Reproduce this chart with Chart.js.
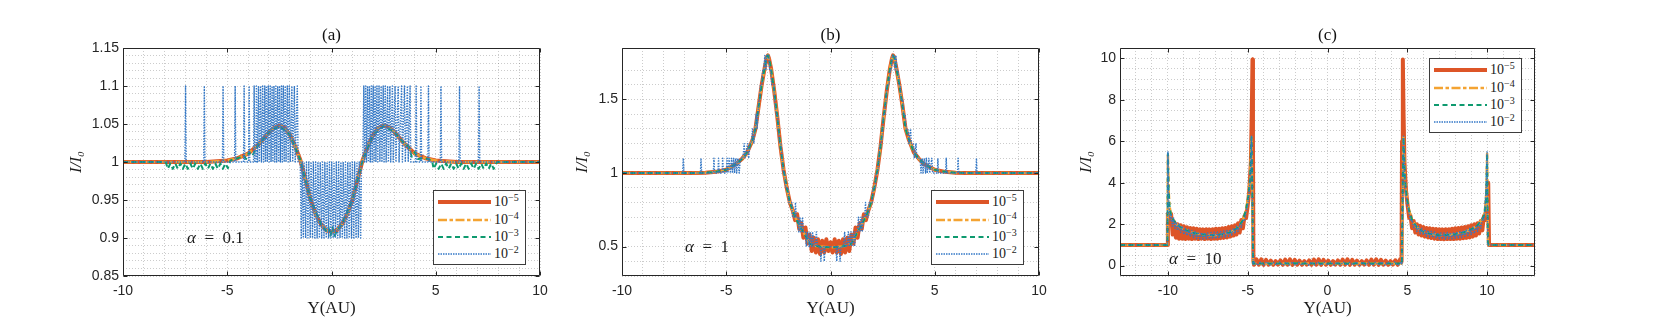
<!DOCTYPE html>
<html>
<head>
<meta charset="utf-8">
<title>I/I0 against Y(AU)</title>
<script src="https://cdn.jsdelivr.net/npm/chart.js@4.4.1/dist/chart.umd.min.js"></script>
<style>
  body { margin: 0; background: #fff; }
  #wrap { position: relative; width: 1661px; height: 324px; overflow: hidden; }
  canvas { position: absolute; top: 0; }
  .legend { position: absolute; box-sizing: border-box; width: 93px; height: 75px;
            background: #fff; border: 1px solid #3c3c3c; }
  .legend .row { position: absolute; left: 0; width: 100%; height: 16px; }
  .legend svg { position: absolute; left: 4px; top: 4px; }
  .legend .tl { position: absolute; left: 60px; top: 0; line-height: 16px; color: #1a1a1a;
                font: 14px "Liberation Serif", "DejaVu Serif", serif; white-space: nowrap; }
  .legend sup { font-size: 10px; vertical-align: 5px; line-height: 0; }
  .alpha { position: absolute; line-height: 20px; color: #1a1a1a; white-space: nowrap;
           font: 17px "Liberation Serif", "DejaVu Serif", serif; }
</style>
</head>
<body>
<div id="wrap">
  <canvas id="chartA" width="570" height="324" style="left:0px"></canvas>
  <canvas id="chartB" width="490" height="324" style="left:570px"></canvas>
  <canvas id="chartC" width="601" height="324" style="left:1060px"></canvas>
</div>
<script>
// legend exponents (10^-5 ... 10^-2), panel titles, alpha of each panel
const tolExponents = ["\u22125", "\u22124", "\u22123", "\u22122"];
const panelTitles = ["(a)", "(b)", "(c)"];
const alphaValues = ["0.1", "1", "10"];

// major ticks (labelled)
const abXMajor = [-10, -5, 0, 5, 10];
const aYMajor = [0.85, 0.9, 0.95, 1, 1.05, 1.1, 1.15];
const bYMajor = [0.5, 1, 1.5];
const cXMajor = [-10, -5, 0, 5, 10];
const cYMajor = [0, 2, 4, 6, 8, 10];

// ---- panel (a), alpha = 0.1 ----
// 10^-5 and 10^-4 lie on top of each other
const aSmooth = [[-10,1],[-8,1],[-6,1],[-5.5,1.001],[-5,1.002],[-4.5,1.005],[-4,1.011],[-3.5,1.023],[-3,1.039],
  [-2.75,1.045],[-2.5,1.048],[-2.25,1.045],[-2,1.036],[-1.75,1.021],[-1.5,1.003],[-1.25,0.977],[-1,0.95],
  [-0.75,0.931],[-0.5,0.918],[-0.25,0.91],[0,0.908],[0.25,0.91],[0.5,0.918],[0.75,0.931],[1,0.95],[1.25,0.977],
  [1.5,1.003],[1.75,1.021],[2,1.036],[2.25,1.045],[2.5,1.048],[2.75,1.046],[3,1.04],[3.5,1.024],[4,1.011],
  [4.5,1.005],[5,1.002],[5.5,1.001],[6,1],[8,1],[10,1]];
const aGreen = [[-10,1],[-7.95,1],[-7.85,0.991],[-7.73,0.998],[-7.61,0.991],[-7.49,0.998],[-7.37,0.991],[-7.25,0.998],
  [-7.13,0.991],[-7.01,0.998],[-6.89,0.991],[-6.77,0.998],[-6.65,0.991],[-6.53,0.998],[-6.41,0.991],[-6.29,0.998],
  [-6.17,0.991],[-6.05,0.998],[-5.93,0.991],[-5.81,0.998],[-5.69,0.991],[-5.57,0.998],[-5.45,0.991],[-5.33,0.998],
  [-5.21,0.991],[-5.09,0.998],[-4.97,0.992],[-4.85,1.002],[-4.5,1.005],[-4.2,1.008],[-4.1,1.004],[-3.95,1.013],
  [-3.8,1.008],[-3.5,1.023],[-3,1.039],[-2.5,1.047],[-2,1.036],[-1.5,1.003],[-1,0.95],[-0.5,0.918],[-0.25,0.909],
  [-0.15,0.914],[-0.05,0.903],[0.05,0.914],[0.15,0.903],[0.25,0.909],[0.5,0.918],[1,0.95],[1.5,1.003],[2,1.036],
  [2.5,1.047],[3,1.04],[3.5,1.024],[3.7,1.02],[3.85,1.007],[4,1.013],[4.15,1.004],[4.5,1.005],[4.82,1.002],
  [4.9,0.991],[5.02,0.998],[5.14,0.991],[5.26,0.998],[5.38,0.991],[5.5,0.998],[5.62,0.991],[5.74,0.998],[5.86,0.991],
  [5.98,0.998],[6.1,0.991],[6.22,0.998],[6.34,0.991],[6.46,0.998],[6.58,0.991],[6.7,0.998],[6.82,0.991],[6.94,0.998],
  [7.06,0.991],[7.18,0.998],[7.3,0.991],[7.42,0.998],[7.54,0.991],[7.66,0.998],[7.78,0.991],[7.9,0.998],[7.95,1],[10,1]];
const aBlue = [[-10,1],[-7.03,1],[-7,1.1],[-6.97,1],[-6.13,1],[-6.1,1.1],[-6.07,1],[-5.23,1],[-5.2,1.1],[-5.17,1],
  [-4.65,1],[-4.62,1.1],[-4.59,1],[-4.22,1],[-4.19,1.1],[-4.16,1],[-3.98,1],[-3.95,1.1],[-3.92,1],[-3.74,1],[-3.71,1.1],
  [-3.68,1],[-3.62,1],[-3.6,1.1],[-3.55,1],[-3.5,1.1],[-3.46,1],[-3.4,1.1],[-3.36,1],[-3.3,1.1],[-3.26,1],[-3.2,1.1],
  [-3.17,1],[-3.12,1.1],[-3.08,1],[-3.03,1.1],[-2.99,1],[-2.94,1.1],[-2.9,1],[-2.85,1.1],[-2.81,1],[-2.76,1.1],
  [-2.72,1],[-2.67,1.1],[-2.63,1],[-2.58,1.1],[-2.54,1],[-2.49,1.1],[-2.45,1],[-2.4,1.1],[-2.36,1],[-2.31,1.1],
  [-2.27,1],[-2.22,1.1],[-2.18,1],[-2.12,1.1],[-2.08,1],[-2.02,1.1],[-1.98,1],[-1.9,1.1],[-1.86,1],[-1.78,1.1],
  [-1.74,1],[-1.64,1.1],[-1.6,1],[-1.5,1],[-1.45,0.9],[-1.41,1],[-1.35,0.9],[-1.31,1],[-1.24,0.9],[-1.2,1],
  [-1.13,0.9],[-1.09,1],[-1.02,0.9],[-0.98,1],[-0.91,0.9],[-0.87,1],[-0.8,0.9],[-0.76,1],[-0.69,0.9],[-0.65,1],
  [-0.58,0.9],[-0.54,1],[-0.47,0.9],[-0.43,1],[-0.36,0.9],[-0.32,1],[-0.25,0.9],[-0.21,1],[-0.14,0.9],[-0.1,1],
  [-0.03,0.9],[0.01,1],[0.08,0.9],[0.12,1],[0.19,0.9],[0.23,1],[0.3,0.9],[0.34,1],[0.41,0.9],[0.45,1],[0.52,0.9],
  [0.56,1],[0.63,0.9],[0.67,1],[0.74,0.9],[0.78,1],[0.85,0.9],[0.89,1],[0.96,0.9],[1,1],[1.07,0.9],[1.11,1],
  [1.18,0.9],[1.22,1],[1.29,0.9],[1.33,1],[1.4,0.9],[1.44,1],[1.5,1],[1.55,1.1],[1.59,1],[1.64,1.1],[1.68,1],
  [1.73,1.1],[1.77,1],[1.82,1.1],[1.86,1],[1.91,1.1],[1.95,1],[2,1.1],[2.04,1],[2.09,1.1],[2.13,1],[2.18,1.1],
  [2.22,1],[2.28,1.1],[2.32,1],[2.38,1.1],[2.42,1],[2.48,1.1],[2.52,1],[2.58,1.1],[2.62,1],[2.69,1.1],[2.73,1],
  [2.8,1.1],[2.84,1],[2.92,1.1],[2.96,1],[3.05,1.1],[3.09,1],[3.2,1.1],[3.24,1],[3.36,1.1],[3.4,1],[3.5,1.1],
  [3.54,1],[3.64,1.1],[3.68,1],[3.77,1.1],[3.8,1],[4.03,1],[4.06,1.1],[4.09,1],[4.26,1],[4.29,1.1],[4.32,1],
  [4.62,1],[4.65,1.1],[4.68,1],[5.22,1],[5.25,1.1],[5.28,1],[6.11,1],[6.14,1.1],[6.17,1],[7.05,1],[7.08,1.1],
  [7.11,1],[10,1]];

// ---- panel (b), alpha = 1 ----
const bSmooth = [[-10,1],[-8,1],[-6.5,1],[-6,1.002],[-5.5,1.008],[-5,1.022],[-4.5,1.065],[-4.25,1.095],[-4,1.14],
  [-3.75,1.22],[-3.6,1.3],[-3.45,1.45],[-3.3,1.6],[-3.15,1.72],[-3.05,1.79],[-3,1.8],[-2.95,1.78],[-2.85,1.71],
  [-2.7,1.56],[-2.55,1.38],[-2.4,1.18],[-2.25,1.02],[-2.1,0.9],[-1.95,0.8],[-1.75,0.72],[-1.5,0.645],[-1.25,0.585],
  [-1,0.52],[-0.75,0.505],[-0.5,0.5],[0,0.495],[0.5,0.5],[0.75,0.505],[1,0.52],[1.25,0.585],[1.5,0.65],[1.75,0.72],
  [1.95,0.8],[2.1,0.9],[2.25,1.02],[2.4,1.18],[2.55,1.38],[2.7,1.56],[2.85,1.71],[2.95,1.78],[3,1.8],[3.05,1.79],
  [3.15,1.72],[3.3,1.6],[3.45,1.46],[3.6,1.3],[3.75,1.23],[4,1.14],[4.25,1.095],[4.5,1.06],[5,1.022],[5.5,1.008],
  [6,1.002],[6.5,1],[8,1],[10,1]];
const bRed = [[-10,1],[-8,1],[-6.5,1],[-6,1.002],[-5.5,1.008],[-5,1.022],[-4.5,1.065],[-4.25,1.095],[-4,1.14],
  [-3.75,1.22],[-3.6,1.3],[-3.45,1.45],[-3.3,1.6],[-3.15,1.72],[-3.05,1.79],[-3,1.8],[-2.95,1.78],[-2.85,1.71],
  [-2.7,1.56],[-2.55,1.38],[-2.4,1.18],[-2.25,1.02],[-2.1,0.9],[-1.95,0.8],[-1.8,0.74],[-1.7,0.68],[-1.6,0.72],
  [-1.5,0.62],[-1.4,0.66],[-1.3,0.56],[-1.2,0.63],[-1.1,0.52],[-1,0.58],[-0.9,0.47],[-0.8,0.56],[-0.7,0.46],
  [-0.6,0.55],[-0.5,0.45],[-0.4,0.54],[-0.3,0.46],[-0.2,0.55],[-0.1,0.47],[0,0.53],[0.1,0.46],[0.2,0.55],[0.3,0.46],
  [0.4,0.54],[0.5,0.45],[0.6,0.55],[0.7,0.46],[0.8,0.56],[0.9,0.47],[1,0.58],[1.1,0.52],[1.2,0.63],[1.3,0.56],
  [1.4,0.66],[1.5,0.62],[1.6,0.72],[1.7,0.68],[1.8,0.74],[1.95,0.8],[2.1,0.9],[2.25,1.02],[2.4,1.18],[2.55,1.38],
  [2.7,1.56],[2.85,1.71],[2.95,1.78],[3,1.8],[3.05,1.79],[3.15,1.72],[3.3,1.6],[3.45,1.46],[3.6,1.3],[3.75,1.23],
  [4,1.14],[4.25,1.095],[4.5,1.06],[5,1.022],[5.5,1.008],[6,1.002],[6.5,1],[8,1],[10,1]];
const bBlue = [[-10,1],[-7.09,1],[-7.06,1.1],[-7.03,1],[-6.24,1],[-6.21,1.1],[-6.18,1],[-5.62,1],[-5.59,1.1],
  [-5.56,1],[-5.4,1],[-5.37,1.1],[-5.34,1],[-5.2,1],[-5.17,1.1],[-5.14,1],[-5,1],[-4.96,1.1],[-4.92,1],[-4.86,1.1],
  [-4.8,1],[-4.74,1.1],[-4.7,1],[-4.64,1.1],[-4.6,1],[-4.54,1.1],[-4.5,1],[-4.44,1.1],[-4.38,1],[-4.32,1.1],
  [-4.2,1.1],[-4.14,1.2],[-4.1,1.1],[-3.98,1.2],[-3.92,1.1],[-3.86,1.2],[-3.8,1.2],[-3.74,1.3],[-3.68,1.2],
  [-3.62,1.3],[-3.56,1.4],[-3.52,1.3],[-3.48,1.4],[-3.44,1.5],[-3.4,1.5],[-3.36,1.6],[-3.3,1.6],[-3.25,1.7],
  [-3.2,1.7],[-3.15,1.8],[-3.1,1.7],[-3.06,1.8],[-2.96,1.8],[-2.92,1.7],[-2.86,1.7],[-2.82,1.6],[-2.72,1.6],
  [-2.68,1.5],[-2.6,1.4],[-2.54,1.4],[-2.5,1.3],[-2.44,1.2],[-2.38,1.2],[-2.32,1.1],[-2.26,1],[-2.2,1],[-2.14,0.9],
  [-2.04,0.9],[-2,0.8],[-1.86,0.8],[-1.82,0.7],[-1.72,0.7],[-1.68,0.8],[-1.64,0.7],[-1.56,0.7],[-1.52,0.6],
  [-1.46,0.7],[-1.42,0.6],[-1.34,0.7],[-1.3,0.6],[-1.2,0.6],[-1.16,0.5],[-1.1,0.6],[-1.02,0.5],[-0.98,0.6],
  [-0.9,0.5],[-0.86,0.6],[-0.78,0.5],[-0.72,0.5],[-0.68,0.6],[-0.62,0.5],[-0.5,0.5],[-0.46,0.4],[-0.42,0.5],
  [-0.34,0.5],[-0.3,0.4],[-0.26,0.5],[-0.1,0.5],[0.1,0.5],[0.26,0.5],[0.3,0.4],[0.34,0.5],[0.42,0.5],[0.46,0.4],
  [0.5,0.5],[0.62,0.5],[0.68,0.6],[0.72,0.5],[0.78,0.5],[0.86,0.6],[0.9,0.5],[0.98,0.6],[1.02,0.5],[1.1,0.6],
  [1.16,0.5],[1.2,0.6],[1.3,0.6],[1.34,0.7],[1.42,0.6],[1.46,0.7],[1.52,0.6],[1.56,0.7],[1.64,0.7],[1.68,0.8],
  [1.72,0.7],[1.82,0.7],[1.86,0.8],[2,0.8],[2.04,0.9],[2.14,0.9],[2.2,1],[2.26,1],[2.32,1.1],[2.38,1.2],[2.44,1.2],
  [2.5,1.3],[2.54,1.4],[2.6,1.4],[2.66,1.5],[2.72,1.6],[2.8,1.6],[2.86,1.7],[2.92,1.7],[2.96,1.8],[3.06,1.8],
  [3.1,1.7],[3.14,1.8],[3.18,1.7],[3.24,1.7],[3.28,1.6],[3.34,1.6],[3.38,1.5],[3.46,1.5],[3.5,1.4],[3.58,1.4],
  [3.62,1.3],[3.72,1.3],[3.76,1.2],[3.84,1.3],[3.88,1.2],[3.98,1.2],[4.02,1.1],[4.1,1.2],[4.14,1.1],[4.3,1.1],
  [4.34,1],[4.4,1.1],[4.44,1],[4.5,1.1],[4.56,1],[4.6,1.1],[4.64,1],[4.72,1.1],[4.76,1],[4.86,1.1],[4.9,1],
  [5.12,1],[5.15,1.1],[5.18,1],[5.52,1],[5.55,1.1],[5.58,1],[6.09,1],[6.12,1.1],[6.15,1],[6.97,1],[7,1.1],
  [7.03,1],[10,1]];

// ---- panel (c), alpha = 10 ----
const cRed = [[-13,1],[-10.04,1],[-10,2.5],[-9.9,2.2],[-9.8,2.5],[-9.7,1.5],[-9.6,2.1],[-9.5,1.35],[-9.4,2],
  [-9.3,1.3],[-9.2,1.95],[-9.1,1.3],[-9,1.9],[-8.9,1.28],[-8.8,1.85],[-8.7,1.3],[-8.6,1.82],[-8.5,1.28],[-8.4,1.8],
  [-8.3,1.3],[-8.2,1.78],[-8.1,1.28],[-8,1.76],[-7.9,1.3],[-7.8,1.75],[-7.7,1.28],[-7.6,1.76],[-7.5,1.3],
  [-7.4,1.75],[-7.3,1.28],[-7.2,1.76],[-7.1,1.3],[-7,1.78],[-6.9,1.3],[-6.8,1.78],[-6.7,1.32],[-6.6,1.8],
  [-6.5,1.34],[-6.4,1.82],[-6.3,1.36],[-6.2,1.86],[-6.1,1.4],[-6,1.9],[-5.9,1.45],[-5.8,1.95],[-5.7,1.5],
  [-5.6,2.05],[-5.5,1.6],[-5.4,2.2],[-5.3,1.8],[-5.2,2.4],[-5.1,2.3],[-5,2.9],[-4.9,3.6],[-4.8,5],[-4.74,7.5],
  [-4.7,9.95],[-4.67,6],[-4.64,0.2],[-4.6,0.04],[-4.45,0.3],[-4.3,0.05],[-4.15,0.31],[-4,0.04],[-3.85,0.28],
  [-3.7,0.05],[-3.55,0.24],[-3.4,0.04],[-3.25,0.22],[-3.1,0.05],[-2.95,0.25],[-2.8,0.04],[-2.65,0.29],[-2.5,0.05],
  [-2.35,0.31],[-2.2,0.04],[-2.05,0.28],[-1.9,0.05],[-1.75,0.24],[-1.6,0.04],[-1.45,0.22],[-1.3,0.05],[-1.15,0.25],
  [-1,0.04],[-0.85,0.29],[-0.7,0.05],[-0.55,0.31],[-0.4,0.04],[-0.25,0.28],[-0.1,0.05],[0.05,0.24],[0.2,0.04],
  [0.35,0.22],[0.5,0.05],[0.65,0.25],[0.8,0.04],[0.95,0.29],[1.1,0.05],[1.25,0.31],[1.4,0.04],[1.55,0.28],
  [1.7,0.05],[1.85,0.24],[2,0.04],[2.15,0.22],[2.3,0.05],[2.45,0.25],[2.6,0.04],[2.75,0.29],[2.9,0.05],[3.05,0.31],
  [3.2,0.04],[3.35,0.28],[3.5,0.05],[3.65,0.24],[3.8,0.04],[3.95,0.22],[4.1,0.05],[4.25,0.26],[4.4,0.04],
  [4.55,0.3],[4.64,0.2],[4.67,6],[4.72,9.95],[4.76,7.5],[4.82,5],[4.92,3.6],[5.02,2.9],[5.12,2.3],[5.2,2.4],
  [5.3,1.8],[5.4,2.15],[5.5,1.6],[5.6,2],[5.7,1.5],[5.8,1.92],[5.9,1.45],[6,1.86],[6.1,1.4],[6.2,1.82],[6.3,1.36],
  [6.4,1.8],[6.5,1.33],[6.6,1.78],[6.7,1.3],[6.8,1.77],[6.9,1.28],[7,1.76],[7.1,1.28],[7.2,1.75],[7.3,1.27],
  [7.4,1.76],[7.5,1.28],[7.6,1.76],[7.7,1.28],[7.8,1.78],[7.9,1.28],[8,1.8],[8.1,1.3],[8.2,1.82],[8.3,1.3],
  [8.4,1.84],[8.5,1.32],[8.6,1.86],[8.7,1.34],[8.8,1.9],[8.9,1.36],[9,1.95],[9.1,1.4],[9.2,2],[9.3,1.45],
  [9.4,2.05],[9.5,1.55],[9.6,2.15],[9.7,1.7],[9.8,2.4],[9.9,2.2],[9.97,3],[10.02,3.5],[10.07,4],[10.12,1],[13,1]];
// 10^-4 and 10^-3 follow the middle of the band
const cSmooth = [[-13,1],[-10.03,1],[-10,5.4],[-9.95,3.6],[-9.9,2.9],[-9.8,2.4],[-9.65,2.2],[-9.4,1.95],[-9,1.75],
  [-8.5,1.6],[-8,1.52],[-7.5,1.48],[-7,1.47],[-6.5,1.52],[-6,1.63],[-5.6,1.85],[-5.3,2.2],[-5.1,2.7],[-4.95,3.4],
  [-4.85,4.2],[-4.76,6.2],[-4.7,3],[-4.66,0.1],[-4,0.1],[-2,0.11],[0,0.1],[2,0.11],[4,0.1],[4.66,0.1],[4.7,3],
  [4.76,6.2],[4.85,4.2],[4.95,3.4],[5.1,2.7],[5.3,2.2],[5.6,1.85],[6,1.63],[6.5,1.52],[7,1.47],[7.5,1.48],[8,1.52],
  [8.5,1.6],[9,1.75],[9.4,1.95],[9.65,2.2],[9.8,2.4],[9.9,2.9],[9.95,3.6],[10,5.4],[10.05,1.1],[10.1,1],[13,1]];
const cBlue = [[-13,1],[-10.03,1],[-10,5.49],[-9.96,3.4],[-9.92,2.8],[-9.86,2.2],[-9.8,2.5],[-9.72,1.9],[-9.64,2.3],
  [-9.56,1.8],[-9.48,2.1],[-9.4,1.7],[-9.3,2],[-9.2,1.6],[-9.1,1.9],[-9,1.5],[-8.9,1.8],[-8.8,1.45],[-8.7,1.75],
  [-8.6,1.4],[-8.5,1.7],[-8.4,1.35],[-8.3,1.65],[-8.2,1.3],[-8.1,1.62],[-8,1.3],[-7.9,1.6],[-7.8,1.28],[-7.7,1.6],
  [-7.6,1.3],[-7.5,1.58],[-7.4,1.28],[-7.3,1.6],[-7.2,1.3],[-7.1,1.62],[-7,1.3],[-6.9,1.62],[-6.8,1.32],[-6.7,1.65],
  [-6.6,1.35],[-6.5,1.68],[-6.4,1.38],[-6.3,1.7],[-6.2,1.42],[-6.1,1.75],[-6,1.48],[-5.9,1.8],[-5.8,1.55],[-5.7,1.9],
  [-5.6,1.65],[-5.5,2],[-5.4,1.85],[-5.3,2.2],[-5.2,2.15],[-5.1,2.6],[-5,2.9],[-4.9,3.6],[-4.82,4.6],[-4.76,6.25],
  [-4.7,2.5],[-4.66,0.05],[-4.6,0.18],[-4.4,0.02],[-4.2,0.17],[-4,0.03],[-3.8,0.18],[-3.6,0.02],[-3.4,0.16],
  [-3.2,0.03],[-3,0.18],[-2.8,0.02],[-2.6,0.17],[-2.4,0.03],[-2.2,0.18],[-2,0.02],[-1.8,0.16],[-1.6,0.03],[-1.4,0.18],
  [-1.2,0.02],[-1,0.17],[-0.8,0.03],[-0.6,0.18],[-0.4,0.02],[-0.2,0.16],[0,0.03],[0.2,0.18],[0.4,0.02],[0.6,0.17],
  [0.8,0.03],[1,0.18],[1.2,0.02],[1.4,0.16],[1.6,0.03],[1.8,0.18],[2,0.02],[2.2,0.17],[2.4,0.03],[2.6,0.18],
  [2.8,0.02],[3,0.16],[3.2,0.03],[3.4,0.18],[3.6,0.02],[3.8,0.17],[4,0.03],[4.2,0.18],[4.4,0.02],[4.6,0.17],
  [4.66,0.05],[4.7,2.5],[4.76,6.25],[4.82,4.6],[4.9,3.6],[5,2.9],[5.1,2.6],[5.2,2.15],[5.3,2.2],[5.4,1.85],[5.5,2],
  [5.6,1.65],[5.7,1.9],[5.8,1.55],[5.9,1.8],[6,1.48],[6.1,1.75],[6.2,1.42],[6.3,1.7],[6.4,1.38],[6.5,1.66],
  [6.6,1.35],[6.7,1.63],[6.8,1.32],[6.9,1.6],[7,1.3],[7.1,1.58],[7.2,1.28],[7.3,1.58],[7.4,1.28],[7.5,1.6],[7.6,1.3],
  [7.7,1.6],[7.8,1.3],[7.9,1.62],[8,1.32],[8.1,1.65],[8.2,1.34],[8.3,1.67],[8.4,1.36],[8.5,1.7],[8.6,1.4],[8.7,1.75],
  [8.8,1.45],[8.9,1.8],[9,1.5],[9.1,1.85],[9.2,1.55],[9.3,1.95],[9.4,1.65],[9.5,2.05],[9.6,1.8],[9.7,2.3],[9.8,2.2],
  [9.86,2.8],[9.93,3.6],[10,5.49],[10.03,1],[13,1]];

// line look of the four tolerances (MATLAB-ish); plotWidth/plotDash used inside the axes
const lineStyles = [
  { color: "#DD5527", width: 4, dash: [], plotWidth: 4, plotDash: [] },
  { color: "#F4A332", width: 2.5, dash: [9, 2.5, 3.5, 2.5], plotWidth: 2.5, plotDash: [9, 2.5, 3.5, 2.5] },
  { color: "#0E9A6F", width: 2, dash: [5, 3.5], plotWidth: 2, plotDash: [5, 3.5] },
  { color: "#3478C6", width: 1.5, dash: [1.5, 1], plotWidth: 1.4, plotDash: [1.4, 1.3] },
];

const SANS = "'Liberation Sans', Arial, sans-serif";
const SERIF = "'Liberation Serif', 'DejaVu Serif', serif";

const panels = [
  { id: "chartA", left: 0, pad: { left: 66, right: 30 }, yWidth: 57,
    xRange: [-10, 10], xStep: 1, xMajor: abXMajor, yRange: [0.85, 1.15], yStep: 0.01, yMajor: aYMajor,
    series: [aSmooth, aSmooth, aGreen, aBlue], legendAt: [433, 190], alphaAt: [187, 228] },
  { id: "chartB", left: 570, pad: { left: 2, right: 21 }, yWidth: 50,
    xRange: [-10, 10], xStep: 1, xMajor: abXMajor, yRange: [0.3, 1.85], yStep: 0.1, yMajor: bYMajor,
    series: [bRed, bSmooth, bSmooth, bBlue], legendAt: [931, 190], alphaAt: [685, 237] },
  { id: "chartC", left: 1060, pad: { left: 16, right: 126 }, yWidth: 44,
    xRange: [-13, 13], xStep: 1, xMajor: cXMajor, yRange: [-0.5, 10.5], yStep: 0.5, yMajor: cYMajor,
    series: [cRed, cSmooth, cSmooth, cBlue], legendAt: [1429, 58], alphaAt: [1169, 249] },
];

// box around the plot + inward tick marks on all four sides
const matlabBox = {
  id: "matlabBox",
  afterDraw(chart) {
    const { ctx, chartArea: a } = chart;
    const xs = chart.scales.x, ys = chart.scales.y;
    const L = Math.round(a.left) + 0.5, R = Math.round(a.right) - 0.5;
    const T = Math.round(a.top) + 0.5, B = Math.round(a.bottom) - 0.5;
    ctx.save();
    ctx.strokeStyle = "#262626";
    ctx.lineWidth = 1;
    ctx.beginPath();
    xs.ticks.forEach((t) => {
      if (!t.label) return;
      const px = Math.round(xs.getPixelForValue(t.value)) + 0.5;
      ctx.moveTo(px, B); ctx.lineTo(px, B - 4);
      ctx.moveTo(px, T); ctx.lineTo(px, T + 4);
    });
    ys.ticks.forEach((t) => {
      if (!t.label) return;
      const py = Math.round(ys.getPixelForValue(t.value)) + 0.5;
      ctx.moveTo(L, py); ctx.lineTo(L + 4, py);
      ctx.moveTo(R, py); ctx.lineTo(R - 4, py);
    });
    ctx.rect(L, T, R - L, B - T);
    ctx.stroke();
    ctx.restore();
  },
};

function axis(range, step, majors, title, extra) {
  return Object.assign({
    type: "linear",
    min: range[0],
    max: range[1],
    ticks: {
      stepSize: step,
      autoSkip: false,
      maxRotation: 0,
      minRotation: 0,
      color: "#262626",
      font: { family: SANS, size: 14 },
      callback: (v) => (majors.some((m) => Math.abs(m - v) < step / 10) ? String(+v.toFixed(2)) : ""),
    },
    grid: { color: "rgba(0,0,0,0.2)", lineWidth: 1, drawTicks: false },
    border: { display: false, dash: [1, 2] },
    title: title,
  }, extra);
}

function makePanel(p, idx) {
  const ctx = document.getElementById(p.id).getContext("2d");
  const datasets = p.series.map((data, i) => ({
    label: "10^" + tolExponents[i],
    data: data,
    borderColor: lineStyles[i].color,
    borderWidth: lineStyles[i].plotWidth,
    borderDash: lineStyles[i].plotDash,
    borderJoinStyle: "round",
    pointRadius: 0,
    tension: 0,
    fill: false,
    order: 3 - i, // 10^-2 on top, as in the figure
  }));

  const x = axis(p.xRange, p.xStep, p.xMajor,
    { display: true, text: "Y(AU)", color: "#1a1a1a", font: { family: SERIF, size: 17 }, padding: { top: 0, bottom: 5 } },
    { afterFit: (s) => { s.height = 48; } });
  x.ticks.padding = 7;
  const y = axis(p.yRange, p.yStep, p.yMajor,
    { display: true, text: "I/I\u2080", color: "#1a1a1a", font: { family: SERIF, size: 17, style: "italic" }, padding: 0 },
    { afterFit: (s) => { s.width = p.yWidth; } });
  y.ticks.padding = 4;

  return new Chart(ctx, {
    type: "line",
    data: { datasets: datasets },
    options: {
      responsive: false,
      animation: false,
      events: [],
      layout: { padding: { left: p.pad.left, right: p.pad.right, top: 0, bottom: 0 } },
      plugins: {
        legend: { display: false },
        tooltip: { enabled: false },
        title: {
          display: true,
          text: panelTitles[idx],
          fullSize: false,
          color: "#111",
          font: { family: SERIF, size: 17, weight: "normal" },
          padding: { top: 25.5, bottom: 2.1 },
        },
      },
      scales: { x: x, y: y },
    },
    plugins: [matlabBox],
  });
}

// legend box and alpha label as html on top of each canvas
function addOverlay(p, idx) {
  const wrap = document.getElementById("wrap");
  const box = document.createElement("div");
  box.className = "legend";
  box.style.left = p.legendAt[0] + "px";
  box.style.top = p.legendAt[1] + "px";
  lineStyles.forEach((st, i) => {
    const row = document.createElement("div");
    row.className = "row";
    row.style.top = (3.3 + i * 17.3) + "px";
    row.innerHTML =
      `<svg width="53" height="8"><line x1="0" y1="4" x2="53" y2="4" stroke="${st.color}"
        stroke-width="${st.width}" stroke-dasharray="${st.dash.join(" ") || "none"}"/></svg>` +
      `<span class="tl">10<sup>${tolExponents[i]}</sup></span>`;
    box.appendChild(row);
  });
  wrap.appendChild(box);

  const al = document.createElement("div");
  al.className = "alpha";
  al.style.left = p.alphaAt[0] + "px";
  al.style.top = p.alphaAt[1] + "px";
  al.innerHTML = `<i>\u03b1</i>\u2002=\u2002${alphaValues[idx]}`;
  wrap.appendChild(al);
}

window.onload = () => {
  panels.forEach((p, i) => {
    makePanel(p, i);
    addOverlay(p, i);
  });
};
</script>
</body>
</html>
